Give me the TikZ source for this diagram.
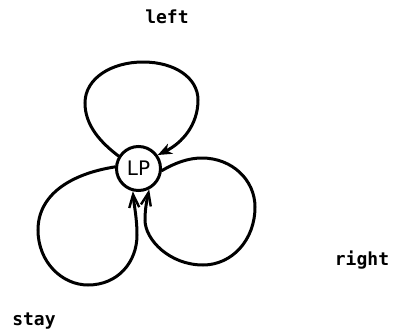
\documentclass[tikz,border=0pt]{standalone}
\usepackage{fontspec}
\newfontfamily\labelfont{DejaVu Sans Mono}
\newfontfamily\nodefont{DejaVu Sans}
\usetikzlibrary{arrows.meta}
\begin{document}
\begin{tikzpicture}[x=1pt,y=-1pt,
  loopline/.style={line width=3pt, line cap=round},
  stateb/.style={circle, draw, line width=3pt, minimum size=44pt, inner sep=0pt, font=\nodefont\fontsize{20}{20}\selectfont},
  lbl/.style={font=\labelfont\bfseries\fontsize{18}{18}\selectfont, inner sep=0pt},
  toptip/.style={-{Stealth[length=14pt,width=11pt,inset=4pt]}},
  bartip/.style={-{Straight Barb[length=13pt,width=10pt,line width=2.4pt]}}
]
\useasboundingbox (0,0) rectangle (394,330);
\node[stateb] (LP) at (138.5,168.5) {LP};
\node[lbl, anchor=base] (left) at (167,23) {left};
\node[lbl, anchor=base] (right) at (362,265) {right};
\node[lbl, anchor=base] (stay) at (34,325) {stay};
% top loop
\draw[loopline, toptip] (LP.148) .. controls (100,142) and (85,125) .. (85,103)
  .. controls (85,78) and (112,62) .. (143,62)
  .. controls (175,62) and (198,78) .. (198,100)
  .. controls (198,125) and (182,143) .. (LP.35);
% left-bottom loop
\draw[loopline, bartip] (LP.176) .. controls (70,174) and (38,195) .. (38,230)
  .. controls (38,262) and (62,285) .. (88,285)
  .. controls (118,285) and (137,262) .. (137,235)
  .. controls (137,218) and (134,205) .. (LP.256);
% right loop
\draw[loopline, bartip] (LP.355) .. controls (175,163) and (188,158) .. (202,158)
  .. controls (232,158) and (255,180) .. (255,207)
  .. controls (255,240) and (232,265) .. (203,265)
  .. controls (170,265) and (145,240) .. (145,220)
  .. controls (145,208) and (147,200) .. (LP.297);
\end{tikzpicture}
\end{document}
